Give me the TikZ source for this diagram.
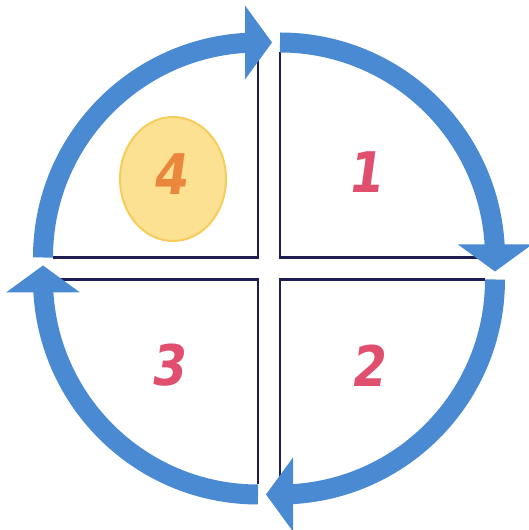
\documentclass[tikz,border=0pt]{standalone}
\usepackage{fontspec}
\setmainfont{Liberation Sans}
\newfontfamily\digitfont[FakeSlant=0.14, FakeStretch=0.88]{DejaVu Sans Bold}
\usetikzlibrary{shapes.geometric}
\definecolor{bandblue}{HTML}{4A8AD2}
\definecolor{edgenavy}{HTML}{1E1E55}
\definecolor{numpink}{HTML}{E0506E}
\definecolor{numorange}{HTML}{EA873C}
\definecolor{dotfill}{HTML}{FDE193}
\definecolor{dotedge}{HTML}{F5CD58}
\tikzset{
  edgeline/.style={draw=edgenavy, line width=2.6pt, line cap=butt, line join=miter},
  bandline/.style={draw=bandblue, line width=20pt, line cap=butt},
  headfill/.style={fill=bandblue},
  numtext/.style={font=\digitfont\fontsize{56}{56}\selectfont, inner sep=0pt},
}
\begin{document}
\begin{tikzpicture}[x=1pt,y=1pt]
\useasboundingbox (0,0) rectangle (529,530);
\fill[white] (0,0) rectangle (529,530);
\foreach \r in {0,-90,-180,-270} {
  \begin{scope}[shift={(269,261.5)}, rotate=\r]
    \draw[edgeline] (-11-205,11) -- (-11,11) -- (-11,11+214);
    \draw[bandline] (-11,11) ++(180:215) arc[start angle=180, end angle=92, radius=215];
    \fill[headfill] (3,226) -- (-24,263) -- (-24,189) -- cycle;
  \end{scope}
}
\node[ellipse, fill=dotfill, draw=dotedge, line width=2pt, minimum width=106pt, minimum height=124pt] (dot) at (173,351) {};
\node[numtext, text=numorange] (n4) at (170,356) {4};
\node[numtext, text=numpink] (n1) at (365,358) {1};
\node[numtext, text=numpink] (n2) at (368,164) {2};
\node[numtext, text=numpink] (n3) at (168,165) {3};
\end{tikzpicture}
\end{document}
